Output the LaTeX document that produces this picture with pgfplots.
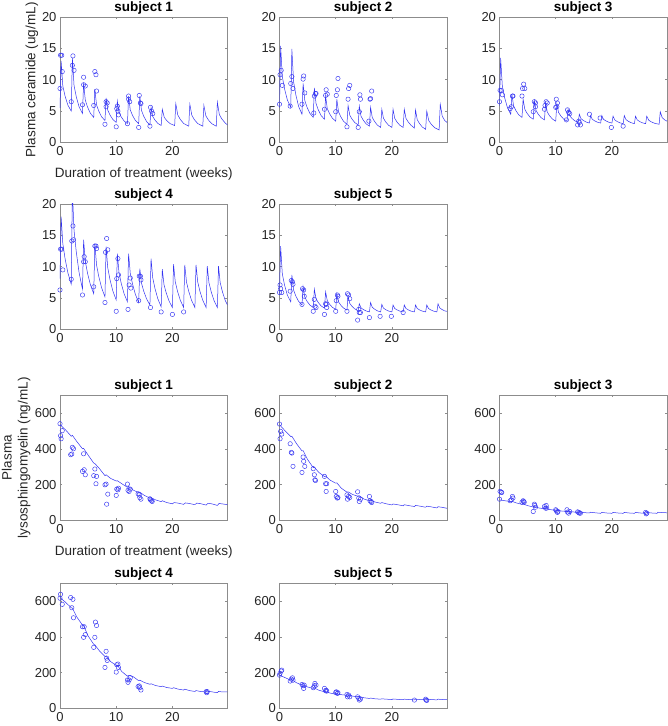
\documentclass[border=0pt]{standalone}
\usepackage{fontspec}
\setmainfont{Liberation Sans}
\usepackage{pgfplots}
\pgfplotsset{compat=1.18}
\definecolor{lineblue}{rgb}{0.2,0.2,0.95}
\definecolor{axgray}{rgb}{0.55,0.55,0.55}
\pgfplotsset{
  panel/.style={
    scale only axis, width=167.5pt, height=125.5pt, anchor=north west,
    xmin=0, xmax=29.8, xtick={0,10,20},
    tick align=inside, xtick pos=both, ytick pos=both,
    major tick length=2.2pt,
    axis line style={draw=axgray, line width=0.5pt},
    every tick/.style={draw=axgray, line width=0.5pt},
    tick label style={font=\fontsize{13}{15}\selectfont, text=black!85},
    /pgf/number format/assume math mode=true,
    title style={font=\bfseries\fontsize{13.5}{16}\selectfont, yshift=-7pt},
    label style={font=\fontsize{13.5}{16}\selectfont, text=black!85},
    scaled ticks=false, clip=true,
  },
  cer/.style={panel, ymin=0, ymax=20, ytick={0,5,10,15,20}},
  lyso/.style={panel, ymin=0, ymax=700, ytick={0,200,400,600}},
  model/.style={draw=lineblue, line width=0.5pt, no markers},
  obs/.style={only marks, mark=o, mark size=2.2pt, mark options={draw=lineblue, line width=0.45pt}},
}
\begin{document}
\begin{tikzpicture}
\path[use as bounding box] (0pt,0pt) rectangle (668pt,726pt);

% ---------------- Ceramide subject 1
\begin{axis}[cer, at={(60pt,709pt)}, title={subject 1},
  ylabel={Plasma ceramide (ug/mL)}, ylabel style={at={(axis description cs:-0.168,0.5)}, anchor=center, rotate=0},
  xlabel={Duration of treatment (weeks)}, xlabel style={at={(axis description cs:0.5,-0.25)}, anchor=center}]
\addplot[model] coordinates {
(0,5.5)(0.2,13.0)(0.5,9.0)(0.9,7.4)(1.4,5.96)(2,5.0)
(2.2,13.5)(2.5,9.05)(2.9,7.27)(3.4,5.67)(4,4.6)
(4.2,9.5)(4.5,6.75)(4.9,5.65)(5.4,4.66)(6,4.0)
(6.2,8.5)(6.5,6.0)(6.9,5.0)(7.4,4.1)(8,3.5)
(8.2,7.1)(8.5,5.15)(8.9,4.37)(9.4,3.67)(10,3.2)
(10.2,6.6)(10.5,4.8)(10.9,4.08)(11.4,3.43)(12,3.0)
(12.2,7.4)(12.5,5.2)(12.9,4.32)(13.4,3.53)(14,3.0)
(14.2,7.4)(14.5,5.1)(14.9,4.18)(15.4,3.35)(16,2.8)
(16.2,5.6)(16.5,4.15)(16.9,3.57)(17.4,3.05)(18,2.7)
(18.2,5.3)(18.55,4.0)(19.0,3.48)(19.6,3.0)(20.4,2.7)
(20.6,6.2)(20.95,4.4)(21.4,3.68)(22.0,3.03)(22.9,2.6)
(23.1,6.1)(23.45,4.35)(23.9,3.65)(24.5,3.02)(25.4,2.6)
(25.6,5.9)(25.95,4.25)(26.4,3.59)(27.0,3.0)(27.8,2.6)
(28.0,6.4)(28.35,4.45)(28.8,3.75)(29.4,3.1)(29.8,2.8)};
\addplot[obs] coordinates {
(0.1,13.9)(0.3,13.9)(0,8.6)(0.4,11.3)(2.2,12.3)(2.3,13.8)(2.5,11.5)(2.0,6.5)
(4.2,10.4)(4.2,9.2)(4.5,9.0)(4.0,6.0)(6.2,11.3)(6.4,10.8)(6.0,5.9)(6.5,8.2)
(8.0,2.9)(8.2,6.5)(8.4,6.3)(8.2,5.7)(10.0,2.5)(10.1,5.4)(10.3,5.0)(10.4,4.4)(10.2,5.8)
(12.0,3.0)(12.2,7.4)(12.2,6.9)(12.4,6.5)(14.0,2.4)(14.1,7.5)(14.3,6.3)(14.4,6.2)
(16.0,2.6)(16.1,5.6)(16.3,5.0)(16.5,4.6)};
\end{axis}

% ---------------- Ceramide subject 2
\begin{axis}[cer, at={(279.5pt,709pt)}, title={subject 2}]
\addplot[model] coordinates {
(0,5.5)(0.2,15.4)(0.5,10.5)(0.9,8.54)(1.4,6.78)(2,5.6)
(2.2,14.9)(2.5,9.7)(2.9,7.62)(3.4,5.75)(4,4.5)
(4.2,9.4)(4.5,6.7)(4.9,5.62)(5.4,4.65)(6,4.0)
(6.2,8.7)(6.5,6.2)(6.9,5.2)(7.4,4.3)(8,3.7)
(8.2,7.4)(8.5,5.4)(8.9,4.6)(9.4,3.88)(10,3.4)
(10.2,6.9)(10.5,4.9)(10.9,4.1)(11.4,3.38)(12,2.9)
(12.2,5.9)(12.5,4.35)(12.9,3.73)(13.4,3.17)(14,2.8)
(14.2,5.8)(14.5,4.2)(14.9,3.56)(15.4,2.98)(16,2.6)
(16.2,5.6)(16.5,4.0)(16.9,3.36)(17.4,2.78)(18,2.4)
(18.2,5.3)(18.5,3.85)(18.9,3.27)(19.4,2.75)(20,2.4)
(20.2,5.3)(20.5,3.85)(20.9,3.27)(21.4,2.75)(22,2.4)
(22.2,5.3)(22.5,3.85)(22.9,3.27)(23.4,2.75)(24,2.3)
(24.2,5.2)(24.5,3.65)(24.9,3.03)(25.4,2.47)(26,2.1)
(26.2,5.0)(26.55,3.5)(27.0,2.9)(27.6,2.36)(28.4,2.0)
(28.6,6.1)(28.95,4.2)(29.4,3.5)(29.8,3.2)};
\addplot[obs] coordinates {
(0,6.1)(0.1,10.8)(0.3,11.5)(0.5,9.1)(1.9,5.8)(2.0,9.4)(2.2,10.5)(2.4,8.6)
(4.0,6.1)(4.2,10.1)(4.3,10.6)(4.5,7.9)(6.1,4.7)(6.2,7.4)(6.4,7.8)(6.5,7.8)
(8.0,5.3)(8.2,7.5)(8.3,8.4)(8.5,7.7)(10.0,4.9)(10.1,7.5)(10.3,8.4)(10.4,10.2)
(12.0,2.5)(12.2,6.9)(12.3,8.6)(12.5,9.1)(14.0,2.4)(14.2,4.9)(14.4,6.9)(14.3,7.6)
(15.9,3.4)(16.1,6.9)(16.2,7.0)(16.4,8.2)};
\end{axis}

% ---------------- Ceramide subject 3
\begin{axis}[cer, at={(499.5pt,709pt)}, title={subject 3}]
\addplot[model] coordinates {
(0,5.8)(0.2,13.5)(0.5,9.0)(0.9,7.2)(1.4,5.58)(2,4.5)
(2.2,7.7)(2.5,5.85)(2.9,5.11)(3.4,4.44)(4,4.0)
(4.2,6.9)(4.5,5.3)(4.9,4.66)(5.4,4.08)(6,3.7)
(6.2,6.6)(6.5,5.1)(6.9,4.5)(7.4,3.96)(8,3.6)
(8.2,6.3)(8.5,4.85)(8.9,4.27)(9.4,3.75)(10,3.4)
(10.2,6.2)(10.5,4.8)(10.9,4.24)(11.4,3.74)(12,3.4)
(12.2,5.3)(12.5,4.25)(12.9,3.83)(13.4,3.45)(14,3.2)
(14.2,4.5)(14.5,3.8)(14.9,3.52)(15.4,3.27)(16,3.1)
(16.2,4.3)(16.5,3.7)(16.9,3.46)(17.4,3.24)(18,3.1)
(18.2,4.3)(18.5,3.7)(18.9,3.46)(19.4,3.24)(20,3.1)
(20.2,4.2)(20.5,3.6)(20.9,3.36)(21.4,3.14)(22,3.0)
(22.2,4.3)(22.5,3.65)(22.9,3.39)(23.4,3.16)(24,3.0)
(24.2,4.2)(24.5,3.6)(24.9,3.36)(25.4,3.14)(26,3.0)
(26.2,4.2)(26.55,3.55)(27.0,3.29)(27.6,3.06)(28.4,2.9)
(28.6,4.9)(28.95,3.95)(29.4,3.6)(29.8,3.4)};
\addplot[obs] coordinates {
(0,6.5)(0.1,8.3)(0.3,8.3)(0.5,7.6)(1.9,5.4)(2.1,5.7)(2.3,7.4)(2.4,7.4)
(4.0,7.4)(4.1,8.6)(4.3,9.3)(4.5,8.6)(6.0,4.9)(6.2,6.5)(6.4,6.3)(6.4,5.7)
(8.0,5.3)(8.1,5.9)(8.3,6.5)(8.5,6.3)(10.0,5.6)(10.1,6.9)(10.3,6.3)(10.2,5.7)
(11.9,3.6)(12.1,5.2)(12.3,4.8)(12.5,4.6)(13.9,2.8)(14.1,3.4)(14.2,3.2)(14.4,2.8)
(16.0,4.5)(17.9,3.9)(19.9,2.4)(22.0,2.6)};
\end{axis}

% ---------------- Ceramide subject 4
\begin{axis}[cer, at={(60pt,522pt)}, title={subject 4}]
\addplot[model] coordinates {
(0,8.1)(0.2,18.0)(0.5,13.7)(0.9,11.3)(1.4,9.04)(2,7.2)
(2.2,22.0)(2.5,15.76)(2.9,12.33)(3.4,9.05)(4,6.4)
(4.2,14.3)(4.5,10.86)(4.9,8.97)(5.4,7.16)(6,5.7)
(6.2,13.7)(6.5,10.3)(6.9,8.43)(7.4,6.65)(8,5.2)
(8.2,13.2)(8.5,9.8)(8.9,7.93)(9.4,6.15)(10,4.7)
(10.2,12.1)(10.5,9.02)(10.9,7.33)(11.4,5.71)(12,4.4)
(12.2,12.1)(12.5,8.98)(12.9,7.26)(13.4,5.63)(14,4.3)
(14.2,9.7)(14.5,7.38)(14.9,6.1)(15.4,4.89)(16,3.9)
(16.2,11.3)(16.5,8.22)(16.9,6.53)(17.4,4.91)(18,3.6)
(18.2,9.6)(18.5,7.16)(18.9,5.82)(19.4,4.54)(20,3.5)
(20.2,10.4)(20.5,7.64)(20.9,6.12)(21.4,4.67)(22,3.5)
(22.2,10.3)(22.5,7.58)(22.9,6.08)(23.4,4.66)(24,3.5)
(24.2,10.3)(24.5,7.58)(24.9,6.08)(25.4,4.66)(26,3.5)
(26.2,10.1)(26.5,7.46)(26.9,6.01)(27.4,4.62)(28,3.5)
(28.2,10.1)(28.5,7.46)(28.9,6.01)(29.4,4.62)(29.8,3.9)};
\addplot[obs] coordinates {
(0,6.3)(0.1,12.8)(0.3,12.8)(0.5,9.5)(2.0,8.0)(2.1,14.1)(2.3,16.5)(2.4,14.3)
(4.0,5.5)(4.2,10.8)(4.3,11.6)(4.5,10.8)(6.0,6.8)(6.2,13.3)(6.4,13.3)(6.5,12.9)
(8.0,4.3)(8.1,12.3)(8.3,14.5)(8.5,12.7)(10.0,2.9)(10.1,8.1)(10.3,11.3)(10.4,8.7)
(12.1,3.2)(12.3,7.1)(12.5,8.2)(12.6,6.6)(14.0,4.6)(14.1,8.5)(14.3,8.5)(14.4,7.9)
(16.1,3.5)(18.0,2.8)(20.0,2.4)(22.0,2.8)};
\end{axis}

% ---------------- Ceramide subject 5
\begin{axis}[cer, at={(279.5pt,522pt)}, title={subject 5}]
\addplot[model] coordinates {
(0,5.8)(0.2,13.3)(0.5,8.85)(0.9,7.07)(1.4,5.47)(2,4.4)
(2.2,8.7)(2.5,6.3)(2.9,5.34)(3.4,4.48)(4,3.9)
(4.2,6.8)(4.5,5.15)(4.9,4.49)(5.4,3.9)(6,3.5)
(6.2,6.4)(6.5,4.9)(6.9,4.3)(7.4,3.76)(8,3.4)
(8.2,6.0)(8.5,4.6)(8.9,4.04)(9.4,3.54)(10,3.2)
(10.2,5.7)(10.5,4.4)(10.9,3.88)(11.4,3.41)(12,3.1)
(12.2,5.3)(12.5,4.15)(12.9,3.69)(13.4,3.28)(14,3.0)
(14.2,4.1)(14.5,3.45)(14.9,3.19)(15.4,2.96)(16,2.8)
(16.2,4.3)(16.5,3.55)(16.9,3.25)(17.4,2.98)(18,2.8)
(18.2,4.0)(18.5,3.4)(18.9,3.16)(19.4,2.94)(20,2.8)
(20.2,3.9)(20.5,3.35)(20.9,3.13)(21.4,2.93)(22,2.8)
(22.2,3.9)(22.5,3.35)(22.9,3.13)(23.4,2.93)(24,2.8)
(24.2,3.9)(24.5,3.35)(24.9,3.13)(25.4,2.93)(26,2.8)
(26.2,3.9)(26.5,3.35)(26.9,3.13)(27.4,2.93)(28,2.8)
(28.2,4.1)(28.5,3.45)(28.9,3.19)(29.4,2.96)(29.8,2.9)};
\addplot[obs] coordinates {
(0,5.9)(0.1,7.1)(0.2,6.5)(0.4,5.9)(1.9,6.1)(2.1,7.8)(2.3,7.6)(2.4,7.2)
(4.0,4.0)(4.1,6.5)(4.3,6.3)(4.4,5.3)(6.0,2.9)(6.2,4.8)(6.3,3.7)(6.5,3.5)
(8.0,2.4)(8.2,4.1)(8.3,4.0)(8.4,3.5)(10.0,2.9)(10.1,4.6)(10.3,5.5)(10.4,5.3)
(12.0,2.9)(12.1,5.7)(12.3,5.5)(12.5,4.9)(13.9,1.5)(14.1,3.2)(14.2,2.7)(14.4,2.7)
(16.0,1.9)(17.9,2.1)(19.9,2.1)(22.0,2.7)};
\end{axis}

% ---------------- Lyso subject 1
\begin{axis}[lyso, at={(60pt,331pt)}, title={subject 1},
  ylabel={Plasma\\lysosphingomyelin (ng/mL)}, ylabel style={at={(axis description cs:-0.262,0.5)}, anchor=center, align=center, rotate=0},
  xlabel={Duration of treatment (weeks)}, xlabel style={at={(axis description cs:0.5,-0.25)}, anchor=center}]
\addplot[model] coordinates {
(0,535)(1,505)(2,470)(2.2,475)(3,440)(4,400)(4.2,402)(5,365)(6,320)(6.2,318)(7,290)(8,250)(8.2,255)(9,235)(10,220)(10.2,222)(11,205)(12,185)(12.2,190)(13,170)(14,155)(14.2,158)(15,140)(16,125)(16.2,128)(17,115)(18,105)(18.2,110)(19,100)(20,93)(20.3,100)(21,97)(22,90)(22.3,98)(23,95)(24,88)(24.3,97)(25,94)(26,86)(26.3,96)(27,93)(28,84)(28.3,95)(29,92)(29.8,88)};
\addplot[obs] coordinates {
(0,540)(0.1,473)(0.2,456)(0.4,501)(1.9,367)(2.1,371)(2.2,408)(2.4,400)
(4.0,274)(4.2,372)(4.3,283)(4.5,255)(6.0,250)(6.2,287)(6.4,205)(6.5,246)
(8.0,199)(8.2,203)(8.3,91)(8.5,147)(10.0,140)(10.1,175)(10.3,171)(10.4,180)
(12.0,203)(12.1,168)(12.3,162)(12.5,175)(13.9,149)(14.1,143)(14.2,128)(14.4,119)
(16.0,121)(16.1,115)(16.3,110)(16.4,106)};
\end{axis}

% ---------------- Lyso subject 2
\begin{axis}[lyso, at={(279.5pt,331pt)}, title={subject 2}]
\addplot[model] coordinates {
(0,534)(1,500)(2,468)(2.2,470)(3,430)(4,388)(4.2,390)(5,340)(6,295)(6.2,297)(7,268)(8,245)(8.2,248)(9,225)(10,208)(10.2,210)(11,180)(12,158)(12.2,160)(13,145)(14,135)(14.2,138)(15,120)(16,110)(16.2,113)(17,103)(18,96)(18.2,100)(19,93)(20,87)(20.2,92)(21,88)(22,82)(22.2,88)(23,83)(24,78)(24.2,84)(25,80)(26,74)(26.2,80)(27,76)(28,70)(28.2,77)(29,73)(29.8,68)};
\addplot[obs] coordinates {
(0,538)(0.1,456)(0.2,497)(0.4,482)(1.9,428)(2.1,380)(2.2,376)(2.4,302)
(4.0,268)(4.2,354)(4.3,330)(4.5,302)(6.0,289)(6.2,255)(6.3,227)(6.4,223)
(8.0,246)(8.2,205)(8.3,162)(8.4,205)(10.0,162)(10.1,134)(10.3,125)(10.4,128)
(12.0,143)(12.1,119)(12.3,134)(12.5,128)(13.9,160)(14.1,125)(14.2,106)(14.4,119)
(16.0,134)(16.1,110)(16.3,106)(16.4,100)};
\end{axis}

% ---------------- Lyso subject 3
\begin{axis}[lyso, at={(499.5pt,331pt)}, title={subject 3}]
\addplot[model] coordinates {
(0,115)(1,110)(2,105)(2.2,107)(3,98)(4,90)(4.2,92)(5,83)(6,75)(6.2,77)(7,70)(8,65)(8.2,68)(9,61)(10,56)(10.2,59)(11,53)(12,50)(12.2,53)(13,48)(14,45)(14.2,48)(15,44)(16,42)(16.2,46)(17,43)(18,40)(18.2,45)(19,42)(20,40)(20.2,45)(21,42)(22,40)(22.2,45)(23,42)(24,40)(24.2,45)(25,42)(26,40)(26.2,45)(27,42)(28,40)(28.2,46)(29,44)(29.8,43)};
\addplot[obs] coordinates {
(0,119)(0.1,162)(0.3,158)(0.4,156)(1.9,110)(2.1,115)(2.3,134)(2.4,125)
(4.0,102)(4.2,110)(4.3,106)(4.4,102)(6.0,50)(6.2,91)(6.3,84)(6.4,74)
(8.0,78)(8.2,69)(8.3,84)(8.4,69)(10.0,60)(10.1,54)(10.3,45)(10.4,50)
(12.0,60)(12.1,47)(12.3,41)(12.5,50)(13.9,48)(14.1,45)(14.2,41)(14.4,41)
(26.0,45)(26.1,37)(26.2,41)};
\end{axis}

% ---------------- Lyso subject 4
\begin{axis}[lyso, at={(60pt,143pt)}, title={subject 4}]
\addplot[model] coordinates {
(0,619)(1,592)(2,562)(2.2,560)(3,510)(4,465)(4.2,462)(5,405)(6,358)(6.2,355)(7,322)(8,290)(8.2,292)(9,262)(10,240)(10.2,242)(11,206)(12,180)(12.2,185)(13,178)(14,155)(14.2,158)(15,145)(16,135)(16.2,138)(17,128)(18,122)(18.2,125)(19,117)(20,112)(20.2,116)(21,108)(22,103)(22.2,108)(23,100)(24,95)(24.2,100)(25,95)(26,92)(26.2,97)(27,93)(28,88)(28.2,95)(29,92)(29.8,93)};
\addplot[obs] coordinates {
(0,615)(0.1,637)(0.4,581)(1.9,619)(2.1,562)(2.3,609)(2.4,506)
(4.0,456)(4.2,397)(4.3,456)(4.5,412)(6.0,341)(6.2,397)(6.3,482)(6.5,463)
(8.0,229)(8.2,319)(8.3,281)(8.4,268)(10.0,203)(10.1,244)(10.3,248)(10.4,229)
(12.0,159)(12.1,146)(12.3,159)(12.5,172)(13.9,122)(14.1,126)(14.2,116)(14.4,103)
(26.0,94)(26.1,88)(26.2,94)};
\end{axis}

% ---------------- Lyso subject 5
\begin{axis}[lyso, at={(279.5pt,143pt)}, title={subject 5}]
\addplot[model] coordinates {
(0,186)(1,172)(2,158)(2.2,160)(3,144)(4,130)(4.2,132)(5,120)(6,112)(6.2,114)(7,102)(8,93)(8.2,95)(9,86)(10,80)(10.2,82)(11,77)(12,74)(12.2,76)(13,69)(14,65)(14.2,67)(15,60)(16,56)(16.2,58)(17,54)(18,52)(18.2,54)(19,52)(20,50)(20.2,53)(21,51)(22,49)(22.2,52)(23,50)(24,48)(24.2,52)(25,50)(26,48)(26.2,52)(27,50)(28,48)(28.2,52)(29,50)(29.8,49)};
\addplot[obs] coordinates {
(0,186)(0.1,196)(0.3,209)(0.4,214)(1.9,153)(2.1,164)(2.3,171)(2.4,158)
(4.0,134)(4.2,127)(4.3,112)(4.4,130)(6.0,116)(6.2,127)(6.3,140)(6.5,130)
(8.0,112)(8.2,99)(8.3,102)(8.4,97)(10.0,89)(10.1,93)(10.3,84)(10.4,88)
(12.0,78)(12.1,65)(12.3,75)(12.5,65)(13.9,65)(14.1,56)(14.2,47)(14.4,52)
(24.0,47)(26.0,52)(26.1,47)(26.2,45)};
\end{axis}
\end{tikzpicture}
\end{document}
